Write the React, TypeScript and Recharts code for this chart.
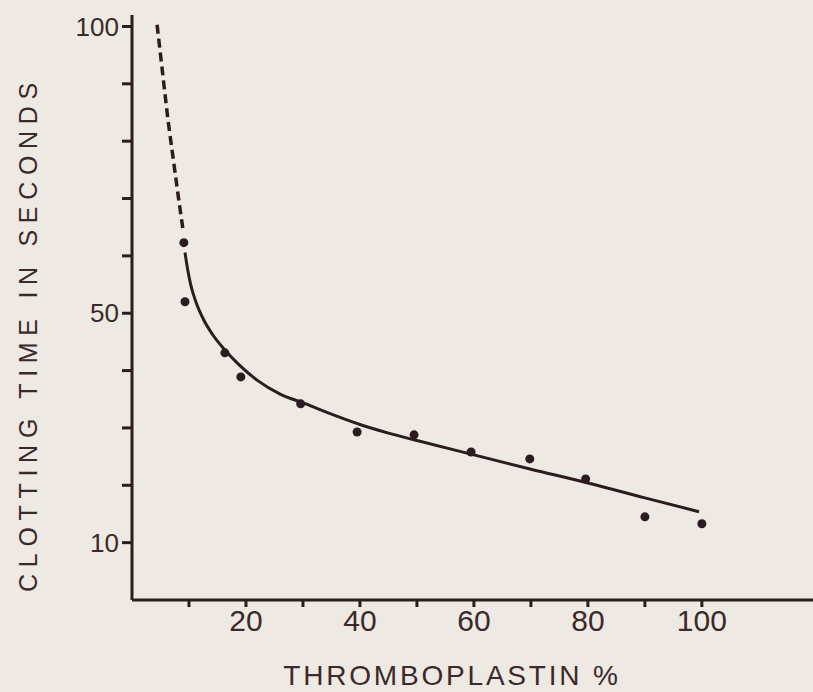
import React from 'react';
import { ComposedChart, Line, Scatter, XAxis, YAxis, Label } from 'recharts';

const xTickValues = [10, 20, 30, 40, 50, 60, 70, 80, 90, 100];
const xTickLabels = [20, 40, 60, 80, 100];
const yTickValues = [10, 20, 30, 40, 50, 60, 70, 80, 90, 100];
const yTickLabels = [10, 50, 100];

const observedX = [9.1, 9.3, 16.3, 19.1, 29.6, 39.5, 49.5, 59.5, 69.8, 79.6, 90.0, 100];
const observedY = [62.3, 52.0, 43.1, 38.9, 34.2, 29.3, 28.8, 25.8, 24.6, 21.1, 14.5, 13.3];

const fitX = [9.3, 9.7, 10.3, 11.2, 12.5, 14.2, 16.3, 18.8, 22, 26, 30.5, 35, 40, 45, 50, 60, 70, 80, 90, 99.5];
const fitY = [60.6, 58.0, 55.0, 52.0, 49.0, 46.2, 43.6, 41.0, 38.3, 35.9, 34.2, 32.4, 30.6, 29.1, 27.8, 25.3, 22.8, 20.4, 17.8, 15.4];

const extrapX = [4.4, 6.3, 8.2, 9.0];
const extrapY = [100.3, 83.8, 69.8, 64.2];

const observed = observedX.map((x, i) => ({ x, y: observedY[i] }));
const fit = fitX.map((x, i) => ({ x, y: fitY[i] }));
const extrap = extrapX.map((x, i) => ({ x, y: extrapY[i] }));

const INK = '#2b1d1f';
const TEXT = '#3a2a2a';
const FONT = "'Liberation Sans', Arial, sans-serif";

const renderYLabel = () => (
  <text
    x={28}
    y={334}
    transform="rotate(-90, 28, 334)"
    textAnchor="middle"
    dominantBaseline="central"
    fill={TEXT}
    fontSize={25}
    fontFamily={FONT}
    letterSpacing={6.7}
  >
    CLOTTING TIME IN SECONDS
  </text>
);

const renderXLabel = () => (
  <text
    x={452}
    y={685}
    textAnchor="middle"
    fill={TEXT}
    fontSize={28}
    fontFamily={FONT}
    letterSpacing={2.8}
  >
    THROMBOPLASTIN %
  </text>
);

export default function App() {
  return (
    <div
      style={{
        position: 'absolute',
        left: 0,
        top: 0,
        width: 813,
        height: 692,
        background: '#efe9e3',
        overflow: 'hidden',
      }}
    >
      <ComposedChart width={813} height={692} margin={{ top: 15, right: 0, bottom: 0, left: 0 }}>
        <XAxis
          type="number"
          dataKey="x"
          domain={[0, 119.5]}
          ticks={xTickValues}
          tickFormatter={(v: number) => (xTickLabels.includes(v) ? String(v) : '')}
          allowDataOverflow
          height={92}
          tickSize={7}
          tickMargin={3}
          axisLine={{ stroke: INK, strokeWidth: 3 }}
          tickLine={{ stroke: INK, strokeWidth: 3 }}
          tick={{ fill: TEXT, fontSize: 30, fontFamily: FONT }}
          interval={0}
        >
          <Label content={renderXLabel} />
        </XAxis>
        <YAxis
          type="number"
          dataKey="y"
          domain={[0, 102]}
          ticks={yTickValues}
          tickFormatter={(v: number) => (yTickLabels.includes(v) ? String(v) : '')}
          allowDataOverflow
          width={132}
          tickSize={10}
          tickMargin={3}
          axisLine={{ stroke: INK, strokeWidth: 3 }}
          tickLine={{ stroke: INK, strokeWidth: 3 }}
          tick={{ fill: TEXT, fontSize: 26, fontFamily: FONT }}
          interval={0}
        >
          <Label content={renderYLabel} />
        </YAxis>
        <Line
          data={extrap}
          dataKey="y"
          type="linear"
          stroke={INK}
          strokeWidth={3.5}
          strokeDasharray="9 5"
          dot={false}
          activeDot={false}
          isAnimationActive={false}
        />
        <Line
          data={fit}
          dataKey="y"
          type="monotone"
          stroke={INK}
          strokeWidth={3}
          dot={false}
          activeDot={false}
          isAnimationActive={false}
        />
        <Scatter
          data={observed}
          dataKey="y"
          fill={INK}
          isAnimationActive={false}
          shape={(p: any) => <circle cx={p.cx} cy={p.cy} r={4.5} fill={INK} />}
        />
      </ComposedChart>
    </div>
  );
}
